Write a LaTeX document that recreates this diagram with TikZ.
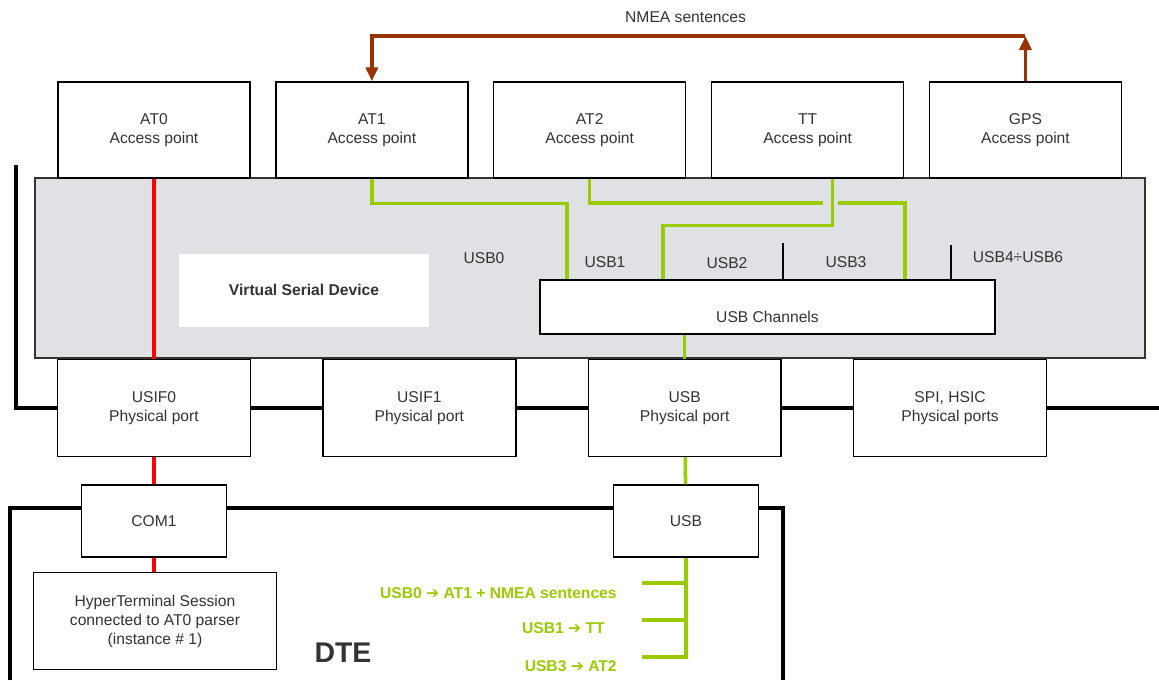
\documentclass[tikz,border=0pt]{standalone}
\usepackage{fontspec}
\setmainfont{Liberation Sans}
\newfontfamily\arrowfont{DejaVu Sans}
\usepackage{xcolor}
\usetikzlibrary{arrows.meta, positioning}
\definecolor{vsdgrey}{RGB}{224, 225, 229}
\definecolor{usbgreen}{RGB}{153, 204, 0}
\definecolor{serred}{RGB}{255, 0, 0}
\definecolor{nmeabrown}{RGB}{153, 51, 0}
\definecolor{textgrey}{RGB}{51, 51, 51}
\newcommand{\boxfont}{\fontsize{8.9pt}{10.8pt}\selectfont}
\newcommand{\maparrow}{{\arrowfont ➔}}
\tikzset{
    apbox/.style={rectangle, draw=black, fill=white, line width=0.8pt,
                  minimum width=3.84cm, minimum height=1.92cm,
                  align=center, text=textgrey, font=\boxfont},
    portbox/.style={apbox, minimum width=3.86cm, minimum height=1.94cm},
    dtebox/.style={apbox, minimum width=2.9cm, minimum height=1.44cm},
    hypbox/.style={apbox, minimum width=4.86cm, minimum height=1.94cm},
    vsdbox/.style={rectangle, draw=black!80, fill=vsdgrey, line width=0.8pt,
                   minimum width=22.2cm, minimum height=3.6cm},
    vsdlabel/.style={rectangle, fill=white, minimum width=5.02cm,
                     minimum height=1.46cm, text=textgrey,
                     font=\boxfont\bfseries},
    chanbox/.style={apbox, minimum width=9.1cm, minimum height=1.08cm,
                    text height=17.8pt, text depth=0pt},
    chlabel/.style={text=textgrey, font=\boxfont, inner sep=0pt},
    maplabel/.style={text=usbgreen, font=\boxfont\bfseries, inner sep=0pt,
                     anchor=east},
    dtename/.style={text=textgrey, font=\fontsize{16.2pt}{19pt}\selectfont\bfseries},
    nmealabel/.style={text=textgrey, font=\boxfont},
    bus/.style={line width=2.8pt, black},
    divider/.style={line width=0.8pt, black},
    usbline/.style={line width=2pt, usbgreen},
    serline/.style={line width=2pt, serred},
    nmea/.style={line width=2pt, nmeabrown,
                 -{Triangle[length=0.28cm, width=0.24cm]}},
}

\begin{document}
\begin{tikzpicture}[x=0.02cm, y=-0.02cm, node distance=0.49cm]
    \useasboundingbox (0,0) rectangle (1159,680);

    % Bus lines behind the boxes
    \coordinate (busL) at (16,165);
    \coordinate (busR) at (1159,408);
    \draw[bus] (busL) |- (busR);
    \coordinate (dteL) at (10,680);
    \coordinate (dteR) at (783,680);
    \draw[bus] (dteL) -- ++(0,-172) -| (dteR);

    % Virtual serial device
    \node[vsdbox] (vsd) at (590,268) {};
    \node[vsdlabel] (vsdname) at (304,290) {Virtual Serial Device};

    % Access points
    \node[apbox] (at0) at (154,130) {AT0\\Access point};
    \node[apbox, right=of at0] (at1) {AT1\\Access point};
    \node[apbox, right=of at1] (at2) {AT2\\Access point};
    \node[apbox, right=of at2] (tt) {TT\\Access point};
    \node[apbox, right=of tt] (gps) {GPS\\Access point};

    % USB channel names
    \node[chlabel] (usb0) at (484,258) {USB0};
    \node[chlabel] (usb1) at (605,262) {USB1};
    \node[chlabel] (usb2) at (727,263) {USB2};
    \node[chlabel] (usb3) at (846,262) {USB3};
    \node[chlabel] (usb46) at (1018,257) {USB4÷USB6};

    % Access points to channels
    \coordinate (tap1) at (567,280);
    \coordinate (tap2) at (663,280);
    \coordinate (tap3) at (905,280);
    \coordinate (hopL) at (823,203);
    \coordinate (hopR) at (838,203);
    \draw[usbline] (at1.south) -- ++(0,25) -| (tap1);
    \draw[usbline] (at2.south) |- (hopL);
    \draw[usbline] (hopR) -| (tap3);
    \draw[usbline] ([xshift=0.5cm]tt.south) -- ++(0,47) -| (tap2);

    \node[chanbox] (chan) at (767.5,307) {USB Channels};
    \coordinate (div1) at (783,243);
    \coordinate (div2) at (951,245);
    \draw[divider] (div1) -- (div1 |- chan.north);
    \draw[divider] (div2) -- (div2 |- chan.north);

    % NMEA loop
    \coordinate (nmeatop) at (1022,36);
    \draw[nmea] (gps.north) -- (gps.north |- nmeatop);
    \draw[nmea] (gps.north |- nmeatop) -| node[pos=0.26, above=3pt, nmealabel] {NMEA sentences} (at1.north);

    % Physical ports
    \node[portbox] (usif0) at (154,408) {USIF0\\Physical port};
    \node[portbox, right=1.42cm of usif0] (usif1) {USIF1\\Physical port};
    \node[portbox, right=1.42cm of usif1] (usbp) {USB\\Physical port};
    \node[portbox, right=1.42cm of usbp] (spi) {SPI, HSIC\\Physical ports};

    % DTE side
    \node[dtebox] (com1) at (154,521) {COM1};
    \node[hypbox] (hyper) at (155,621) {HyperTerminal Session\\connected to AT0 parser\\(instance \# 1)};
    \node[dtebox] (usbd) at (686,521) {USB};
    \node[dtename] (dte) at (343,653) {DTE};

    % Serial path
    \draw[serline] (at0.south) -- (at0.south |- usif0.north);
    \draw[serline] (usif0.south) -- (usif0.south |- com1.north);
    \draw[serline] (com1.south) -- (com1.south |- hyper.north);

    % USB path
    \draw[usbline] (usbp.north |- chan.south) -- (usbp.north);
    \draw[usbline] (usbp) -- (usbd);

    % Channel mapping on the DTE
    \node[maplabel] (map0) at (617,593) {USB0 \maparrow{} AT1 + NMEA sentences};
    \node[maplabel] (map1) at (605,628) {USB1 \maparrow{} TT};
    \node[maplabel] (map2) at (617,666) {USB3 \maparrow{} AT2};
    \coordinate (br0) at (642,583);
    \coordinate (br1) at (642,620);
    \coordinate (br2) at (642,657);
    \draw[usbline] (usbd.south) |- (br2);
    \draw[usbline] (br0) -- (br0 -| usbd.south);
    \draw[usbline] (br1) -- (br1 -| usbd.south);
\end{tikzpicture}
\end{document}
